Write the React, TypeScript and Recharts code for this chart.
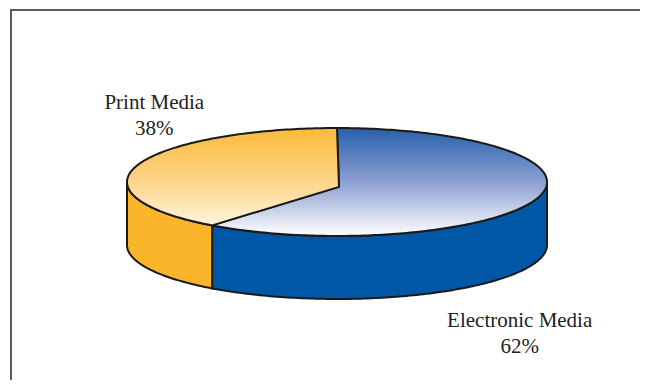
import React from "react";
import { PieChart, Pie } from "recharts";

// media share
const categories = ["Electronic Media", "Print Media"];
const shares = [62, 38];
const sideColors = ["#0057a6", "#fbb52b"];
const topColors = ["#2860ab", "#fbba38"];
const topMid = ["#8c9fd2", "#fdd68a"];
const topFade = ["#ffffff", "#fffbf2"];

const data = categories.map((name, i) => ({ name, value: shares[i] }));

const RAD = Math.PI / 180;
const TILT = 0.257; // ry / rx of the top ellipse
const DEPTH = 0.3; // side wall height / rx
const VIEW = 1.27; // angle warp, like excel's 3d view

// recharts angle -> parametric angle on the flattened ellipse
const warp = (a: number) => {
  const w = Math.atan2(VIEW * Math.sin(a * RAD), Math.cos(a * RAD)) / RAD;
  // keep the same turn as the input angle
  return w + 360 * Math.round((a - w) / 360);
};

function Slice3D(props: any) {
  const { cx, cy, outerRadius, startAngle, endAngle } = props;
  const name = props.name ?? props.payload?.name;
  const idx = Math.max(0, categories.indexOf(name));
  const rx = outerRadius;
  const ry = rx * TILT;
  const depth = rx * DEPTH;

  const pt = (a: number, dy = 0) =>
    `${(cx + rx * Math.cos(a * RAD)).toFixed(2)},${(cy - ry * Math.sin(a * RAD) + dy).toFixed(2)}`;
  const arc = (a: number, b: number, dy = 0) => {
    const n = Math.max(2, Math.ceil(Math.abs(b - a)));
    const out: string[] = [];
    for (let i = 0; i <= n; i++) out.push(pt(a + ((b - a) * i) / n, dy));
    return out;
  };

  const lo = warp(Math.min(startAngle, endAngle));
  const hi = warp(Math.max(startAngle, endAngle));

  const apexX = cx + 2;
  const apexY = cy + ry * 0.09;
  const top = `M${apexX},${apexY} L${arc(lo, hi).join(" L")} Z`;

  const sides: string[] = [];
  for (const k of [-720, -360, 0, 360]) {
    const s = Math.max(lo, 180 + k);
    const e = Math.min(hi, 360 + k);
    if (e > s) {
      sides.push(`M${arc(s, e).join(" L")} L${arc(e, s, depth).join(" L")} Z`);
    }
  }

  const gid = `topGrad${idx}`;
  return (
    <g>
      <defs>
        <linearGradient id={gid} gradientUnits="userSpaceOnUse" x1={0} y1={cy - ry} x2={0} y2={cy + ry}>
          <stop offset="0%" stopColor={topColors[idx]} />
          <stop offset="50%" stopColor={topMid[idx]} />
          <stop offset="100%" stopColor={topFade[idx]} />
        </linearGradient>
      </defs>
      {sides.map((d, i) => (
        <path key={i} d={d} fill={sideColors[idx]} stroke="#1a1a1a" strokeWidth={2} strokeLinejoin="round" />
      ))}
      <path d={top} fill={`url(#${gid})`} stroke="#1a1a1a" strokeWidth={2} strokeLinejoin="round" />
    </g>
  );
}

function SliceLabel(props: any) {
  const { cx, cy, midAngle, outerRadius, name, value } = props;
  const c = Math.cos(midAngle * RAD);
  const s = Math.sin(midAngle * RAD);
  const x = cx + Math.sign(c) * 0.87 * outerRadius;
  const y = s > 0 ? cy - 0.35 * outerRadius : cy + 0.69 * outerRadius;
  return (
    <text
      x={x}
      y={y}
      textAnchor="middle"
      fill="#222"
      fontSize={21}
      fontFamily="'Liberation Serif', 'Times New Roman', serif"
    >
      <tspan x={x}>{name}</tspan>
      <tspan x={x} dy={26}>{`${value}%`}</tspan>
    </text>
  );
}

export default function App() {
  return (
    <div style={{ position: "relative", width: 648, height: 388, margin: -8, overflow: "hidden", background: "#fff" }}>
      <div
        style={{
          position: "absolute",
          left: 10,
          top: 9,
          width: 634,
          height: 420,
          borderTop: "2px solid #5c5c5c",
          borderLeft: "2px solid #5c5c5c",
          borderRight: "1px solid #9a9a9a",
        }}
      />
      <div style={{ position: "absolute", left: 0, top: 0 }}>
        <PieChart width={648} height={388} margin={{ top: 0, right: 0, bottom: 0, left: 0 }}>
          <Pie
            data={data}
            dataKey="value"
            nameKey="name"
            cx={337}
            cy={182}
            outerRadius={210}
            startAngle={90}
            endAngle={-270}
            stroke="none"
            shape={Slice3D}
            activeShape={Slice3D}
            inactiveShape={Slice3D}
            label={SliceLabel}
            labelLine={false}
            isAnimationActive={false}
          />
        </PieChart>
      </div>
    </div>
  );
}
